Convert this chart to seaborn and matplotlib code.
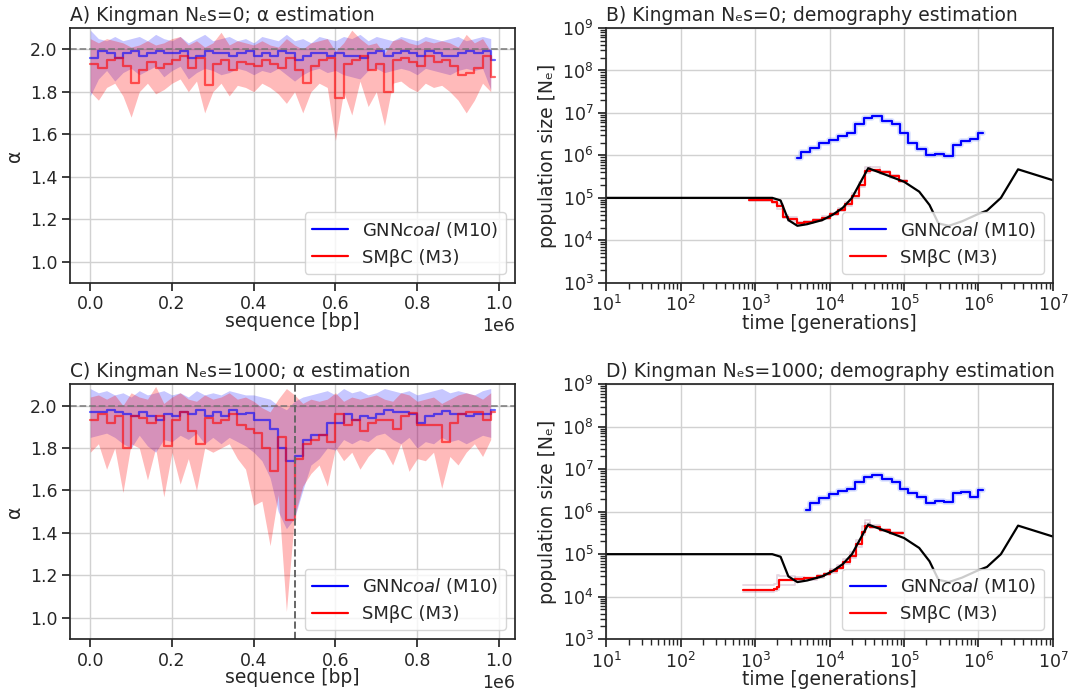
import numpy as np
import pandas as pd
import matplotlib
matplotlib.use("Agg")
import matplotlib.pyplot as plt
import seaborn as sns
from matplotlib.lines import Line2D

sns.set_theme(style="ticks", rc={"axes.grid": True, "grid.color": "0.82"})
plt.rcParams['font.family'] = ['DejaVu Sans']

# ── alpha along the sequence (window starts, 20 kb windows) ──
seq_pos = np.arange(50) * 20000
seq_end = 990000

# panel A : Kingman Nes=0
gnn_a_mean = [1.96, 1.99, 1.98, 1.96, 1.98, 1.99, 1.97, 1.98, 1.99, 1.98,
              1.98, 1.99, 1.96, 1.97, 1.99, 1.98, 1.98, 1.97, 1.98, 1.99,
              1.97, 1.98, 1.97, 1.99, 1.98, 1.95, 1.97, 1.98, 1.98, 1.97,
              1.98, 1.97, 1.97, 1.96, 1.98, 1.99, 1.97, 1.98, 1.99, 1.98,
              1.97, 1.99, 1.98, 1.97, 1.97, 1.98, 1.99, 1.98, 1.99, 1.95]
gnn_a_low = [1.78, 1.86, 1.90, 1.85, 1.89, 1.91, 1.88, 1.90, 1.92, 1.87,
             1.90, 1.92, 1.86, 1.89, 1.91, 1.90, 1.88, 1.89, 1.91, 1.90,
             1.88, 1.90, 1.89, 1.91, 1.88, 1.85, 1.88, 1.90, 1.91, 1.89,
             1.90, 1.88, 1.87, 1.86, 1.90, 1.91, 1.89, 1.90, 1.91, 1.90,
             1.88, 1.91, 1.90, 1.89, 1.88, 1.90, 1.91, 1.90, 1.91, 1.81]
gnn_a_high = [2.09, 2.05, 2.04, 2.06, 2.04, 2.05, 2.06, 2.04, 2.07, 2.05,
              2.04, 2.06, 2.03, 2.05, 2.07, 2.04, 2.05, 2.06, 2.04, 2.05,
              2.03, 2.06, 2.05, 2.04, 2.07, 2.04, 2.05, 2.03, 2.06, 2.05,
              2.04, 2.06, 2.05, 2.07, 2.04, 2.06, 2.05, 2.04, 2.06, 2.05,
              2.04, 2.06, 2.05, 2.04, 2.05, 2.06, 2.04, 2.05, 2.06, 2.05]
smc_a_mean = [1.93, 1.91, 1.95, 1.96, 1.92, 1.84, 1.90, 1.94, 1.91, 1.93,
              1.95, 1.97, 1.91, 1.96, 1.83, 1.93, 1.95, 1.90, 1.94, 1.93,
              1.92, 1.95, 1.93, 1.91, 1.96, 1.90, 1.84, 1.92, 1.95, 1.96,
              1.77, 1.93, 1.95, 1.97, 1.90, 1.93, 1.80, 1.95, 1.96, 1.94,
              1.92, 1.97, 1.94, 1.95, 1.92, 1.88, 1.89, 1.91, 1.97, 1.87]
smc_a_low = [1.80, 1.76, 1.82, 1.84, 1.78, 1.68, 1.80, 1.84, 1.79, 1.81,
             1.84, 1.86, 1.80, 1.85, 1.70, 1.80, 1.84, 1.78, 1.83, 1.82,
             1.80, 1.84, 1.82, 1.79, 1.745, 1.80, 1.70, 1.80, 1.84, 1.82,
             1.57, 1.80, 1.69, 1.85, 1.73, 1.80, 1.64, 1.84, 1.85, 1.82,
             1.80, 1.84, 1.82, 1.83, 1.80, 1.76, 1.70, 1.76, 1.84, 1.80]
smc_a_high = [2.05, 2.03, 2.05, 2.04, 2.03, 2.01, 2.02, 2.04, 2.02, 2.03,
              2.05, 2.06, 2.02, 2.04, 2.01, 2.03, 2.08, 2.02, 2.04, 2.03,
              2.02, 2.04, 2.02, 2.01, 2.05, 2.02, 2.00, 2.03, 2.04, 2.05,
              1.99, 2.03, 2.09, 2.05, 2.02, 2.03, 1.98, 2.04, 2.05, 2.03,
              2.02, 2.04, 2.03, 2.04, 2.03, 2.01, 2.07, 2.03, 2.05, 1.99]

# panel C : Kingman Nes=1000 (sweep at 0.5 Mb)
gnn_c_mean = [1.97, 1.97, 1.98, 1.97, 1.96, 1.95, 1.97, 1.95, 1.93, 1.96,
              1.95, 1.97, 1.96, 1.98, 1.95, 1.97, 1.95, 1.98, 1.96, 1.965,
              1.93, 1.93, 1.89, 1.80, 1.74, 1.76, 1.84, 1.86, 1.86, 1.92,
              1.92, 1.96, 1.93, 1.95, 1.94, 1.96, 1.98, 1.97, 1.97, 1.96,
              1.92, 1.95, 1.96, 1.975, 1.96, 1.96, 1.95, 1.96, 1.96, 1.98]
gnn_c_low = [1.85, 1.86, 1.87, 1.85, 1.82, 1.80, 1.86, 1.81, 1.78, 1.84,
             1.83, 1.86, 1.84, 1.87, 1.82, 1.85, 1.82, 1.85, 1.83, 1.81,
             1.78, 1.74, 1.66, 1.50, 1.42, 1.47, 1.60, 1.72, 1.75, 1.80,
             1.79, 1.84, 1.82, 1.84, 1.83, 1.86, 1.87, 1.84, 1.82, 1.85,
             1.80, 1.83, 1.82, 1.85, 1.83, 1.84, 1.82, 1.84, 1.86, 1.85]
gnn_c_high = [2.08, 2.06, 2.07, 2.05, 2.06, 2.04, 2.07, 2.05, 2.06, 2.07,
              2.05, 2.06, 2.04, 2.07, 2.05, 2.06, 2.05, 2.07, 2.06, 2.05,
              2.05, 2.04, 2.03, 2.00, 1.98, 2.02, 2.04, 2.05, 2.06, 2.07,
              2.05, 2.08, 2.06, 2.07, 2.05, 2.06, 2.08, 2.07, 2.06, 2.07,
              2.05, 2.06, 2.07, 2.08, 2.06, 2.07, 2.06, 2.05, 2.07, 2.08]
smc_c_mean = [1.93, 1.96, 1.92, 1.95, 1.80, 1.95, 1.94, 1.92, 1.95, 1.81,
              1.93, 1.97, 1.88, 1.82, 1.94, 1.92, 1.93, 1.96, 1.91, 1.89,
              1.87, 1.80, 1.69, 1.85, 1.46, 1.75, 1.82, 1.84, 1.86, 1.83,
              1.96, 1.91, 1.93, 1.88, 1.92, 1.93, 1.93, 1.89, 1.95, 1.965,
              1.91, 1.91, 1.91, 1.83, 1.92, 1.96, 1.97, 1.97, 1.93, 1.97]
smc_c_low = [1.78, 1.82, 1.70, 1.80, 1.59, 1.82, 1.80, 1.65, 1.80, 1.57,
             1.78, 1.63, 1.75, 1.60, 1.80, 1.78, 1.80, 1.82, 1.75, 1.70,
             1.53, 1.55, 1.34, 1.58, 1.03, 1.48, 1.62, 1.68, 1.72, 1.62,
             1.80, 1.74, 1.78, 1.70, 1.76, 1.80, 1.79, 1.72, 1.82, 1.69,
             1.75, 1.74, 1.78, 1.61, 1.76, 1.72, 1.78, 1.82, 1.76, 1.84]
smc_c_high = [2.04, 2.05, 2.03, 2.05, 2.00, 2.06, 2.04, 2.03, 2.09, 2.01,
              2.04, 2.06, 2.03, 2.02, 2.05, 2.03, 2.04, 2.06, 2.03, 2.04,
              2.02, 1.99, 1.97, 2.03, 2.08, 2.05, 2.01, 2.03, 2.02, 2.03,
              2.06, 2.02, 2.04, 2.03, 2.04, 2.05, 2.03, 2.02, 2.06, 2.05,
              2.02, 2.03, 2.04, 2.01, 2.03, 2.05, 2.06, 2.05, 2.03, 2.06]

# ── demography (time in generations, size in Ne) ──
true_t = [1e1, 1.7e3, 2.2e3, 2.8e3, 3.7e3, 5e3, 8e3, 1.1e4, 1.5e4, 2e4, 3.3e4,
          6.5e4, 1e5, 1.6e5, 2.2e5, 2.9e5, 4e5, 6e5, 1e6, 1.3e6, 2e6, 3.4e6, 1e7]
true_n = [1e5, 1e5, 8.7e4, 3.0e4, 2.2e4, 2.4e4, 3.0e4, 4.0e4, 5.8e4, 1e5, 5e5,
          3.2e5, 2.4e5, 1.4e5, 6.8e4, 2.5e4, 2.2e4, 2.8e4, 4.2e4, 5e4, 1e5, 4.7e5, 2.6e5]

gnn_b_t = [3.7e3, 4.2e3, 5.5e3, 7.3e3, 9.9e3, 1.31e4, 1.7e4, 2.2e4, 2.9e4, 3.7e4, 5e4,
           6.8e4, 8.8e4, 1.14e5, 1.48e5, 1.97e5, 2.6e5, 3.4e5, 4.5e5, 5.9e5, 7.7e5, 9.9e5, 1.16e6]
gnn_b_n = [8.7e5, 1.18e6, 1.5e6, 1.95e6, 2.3e6, 2.8e6, 3.4e6, 5.5e6, 7.6e6, 8.3e6, 6.6e6,
           5.6e6, 3.4e6, 2.0e6, 1.4e6, 1.0e6, 1.1e6, 9.8e5, 1.8e6, 2.2e6, 2.4e6, 3.3e6, 3.3e6]
gnn_d_t = [4.8e3, 5.5e3, 7.3e3, 9.9e3, 1.31e4, 1.7e4, 2.2e4, 2.9e4, 3.7e4, 5e4,
           6.8e4, 8.8e4, 1.14e5, 1.48e5, 1.97e5, 2.6e5, 3.4e5, 4.5e5, 5.9e5, 7.7e5, 9.9e5, 1.16e6]
gnn_d_n = [1.1e6, 1.6e6, 2.1e6, 2.6e6, 3.0e6, 3.4e6, 5.0e6, 6.7e6, 7.4e6, 5.8e6,
           5.1e6, 3.4e6, 2.7e6, 2.2e6, 1.6e6, 1.8e6, 1.7e6, 2.7e6, 2.9e6, 2.2e6, 3.3e6, 3.3e6]

smc_b_t = [8.4e2, 1.7e3, 2.0e3, 2.4e3, 2.8e3, 3.6e3, 4.5e3, 6e3, 8e3, 1.0e4, 1.3e4,
           1.6e4, 2.0e4, 2.5e4, 3.0e4, 3.5e4, 4.8e4, 6.5e4, 8.5e4, 1.1e5]
smc_b_n = [9e4, 8e4, 6.5e4, 3.6e4, 3.2e4, 2.5e4, 2.7e4, 3.0e4, 3.4e4, 4.2e4, 5.2e4,
           7.0e4, 1.1e5, 2.0e5, 4.2e5, 4.6e5, 4.0e5, 3.2e5, 2.5e5, 2.5e5]
smc_b_rep1 = [8.5e4, 8.8e4, 5.5e4, 3.3e4, 2.8e4, 2.7e4, 2.6e4, 3.2e4, 3.8e4, 4.5e4, 5.8e4,
              8.0e4, 1.3e5, 2.4e5, 5.2e5, 4.3e5, 3.6e5, 3.0e5, 2.4e5, 2.4e5]
smc_b_rep2 = [9.5e4, 7.5e4, 7.0e4, 4.0e4, 3.6e4, 2.3e4, 2.9e4, 2.8e4, 3.2e4, 4.0e4, 4.8e4,
              6.5e4, 1.0e5, 1.8e5, 3.8e5, 5.3e5, 4.4e5, 3.4e5, 2.7e5, 2.7e5]

smc_d_t = [6.8e2, 1.8e3, 2.0e3, 2.1e3, 3.4e3, 4.5e3, 6.7e3, 8.3e3, 1.0e4, 1.25e4,
           1.5e4, 1.9e4, 2.3e4, 2.7e4, 3.0e4, 3.5e4, 4.8e4, 6.5e4, 9.8e4]
smc_d_n = [1.44e4, 1.5e4, 1.7e4, 2.5e4, 2.6e4, 2.7e4, 3.0e4, 3.4e4, 4.0e4, 4.8e4,
           6.5e4, 9e4, 1.7e5, 3.3e5, 4.7e5, 4.4e5, 3.8e5, 3.1e5, 3.1e5]
smc_d_rep1 = [1.9e4, 2.0e4, 3.2e4, 3.0e4, 2.4e4, 2.5e4, 3.3e4, 3.6e4, 4.4e4, 5.5e4,
              7.5e4, 1.1e5, 2.2e5, 4.5e5, 6.5e5, 4.2e5, 3.6e5, 3.0e5, 3.0e5]
smc_d_rep2 = [1.3e4, 1.35e4, 1.4e4, 1.9e4, 2.9e4, 2.8e4, 2.8e4, 3.2e4, 3.7e4, 4.5e4,
              6.0e4, 8.0e4, 1.5e5, 2.8e5, 5.5e5, 4.8e5, 4.0e5, 3.3e5, 3.3e5]

BLUE, RED = "blue", "red"


def alpha_panel(ax, g_mean, g_low, g_high, s_mean, s_low, s_high, title, sweep=False):
    x_step = np.append(seq_pos, seq_end)
    ax.fill_between(seq_pos, g_low, g_high, color=BLUE, alpha=0.22, lw=0)
    ax.fill_between(seq_pos, s_low, s_high, color=RED, alpha=0.27, lw=0)
    sns.lineplot(x=x_step, y=np.append(g_mean, g_mean[-1]), ax=ax, color=BLUE,
                 alpha=0.6, lw=1.6, drawstyle="steps-post", estimator=None)
    sns.lineplot(x=x_step, y=np.append(s_mean, s_mean[-1]), ax=ax, color=RED,
                 alpha=0.6, lw=1.6, drawstyle="steps-post", estimator=None)
    ax.axhline(2.0, color="0.45", ls="--", lw=1.3, alpha=0.8)
    if sweep:
        ax.axvline(500000, color="0.4", ls="--", lw=1.4)
    ax.set_ylim(0.9, 2.1)
    ax.set_xlim(-49500, 1039500)
    ax.set_yticks([1.0, 1.2, 1.4, 1.6, 1.8, 2.0])
    ax.set_xlabel("sequence [bp]", fontsize=13.5, labelpad=-1)
    ax.set_ylabel("α", fontsize=13.5)
    ax.set_title(title, loc="left", fontsize=13.5, pad=5)


def demo_panel(ax, g_t, g_n, s_t, s_n, reps, title):
    ax.set_xscale("log")
    ax.set_yscale("log")
    for rep in reps:
        sns.lineplot(x=s_t, y=rep, ax=ax, color="#8a4a78", alpha=0.22, lw=1.3,
                     drawstyle="steps-post", estimator=None)
    sns.lineplot(x=g_t, y=g_n, ax=ax, color="#6f8cff", alpha=0.25, lw=4,
                 drawstyle="steps-post", estimator=None)
    sns.lineplot(x=g_t, y=g_n, ax=ax, color=BLUE, lw=1.6,
                 drawstyle="steps-post", estimator=None)
    sns.lineplot(x=s_t, y=s_n, ax=ax, color=RED, lw=1.6,
                 drawstyle="steps-post", estimator=None)
    sns.lineplot(x=true_t, y=true_n, ax=ax, color="black", lw=1.6,
                 estimator=None, sort=False)
    ax.set_xlim(1e1, 1e7)
    ax.set_ylim(1e3, 1e9)
    ax.set_xlabel("time [generations]", fontsize=13.5, labelpad=-1)
    ax.set_ylabel("population size [Nₑ]", fontsize=13.5)
    ax.set_title(title, loc="left", fontsize=13.5, pad=5)


fig = plt.figure(figsize=(10.69, 7.0), dpi=100)
ax_a = fig.add_axes([0.0655, 0.596, 0.4163, 0.364])
ax_b = fig.add_axes([0.567, 0.596, 0.418, 0.364])
ax_c = fig.add_axes([0.0655, 0.087, 0.4163, 0.364])
ax_d = fig.add_axes([0.567, 0.087, 0.418, 0.364])

alpha_panel(ax_a, gnn_a_mean, gnn_a_low, gnn_a_high, smc_a_mean, smc_a_low, smc_a_high,
            "A) Kingman Nₑs=0; α estimation")
alpha_panel(ax_c, gnn_c_mean, gnn_c_low, gnn_c_high, smc_c_mean, smc_c_low, smc_c_high,
            "C) Kingman Nₑs=1000; α estimation", sweep=True)
demo_panel(ax_b, gnn_b_t, gnn_b_n, smc_b_t, smc_b_n, [smc_b_rep1, smc_b_rep2],
           "B) Kingman Nₑs=0; demography estimation")
demo_panel(ax_d, gnn_d_t, gnn_d_n, smc_d_t, smc_d_n, [smc_d_rep1, smc_d_rep2],
           "D) Kingman Nₑs=1000; demography estimation")

handles = [Line2D([0], [0], color=BLUE, lw=1.6), Line2D([0], [0], color=RED, lw=1.6)]
labels = ["GNN$\\it{coal}$ (M10)", "SMβC (M3)"]
for ax in [ax_a, ax_b, ax_c, ax_d]:
    ax.tick_params(labelsize=12.5, pad=3)
    ax.legend(handles, labels, loc="lower right", fontsize=13, frameon=True)
    ax.xaxis.get_offset_text().set_fontsize(12.5)

fig.savefig("out.png", dpi=100)
